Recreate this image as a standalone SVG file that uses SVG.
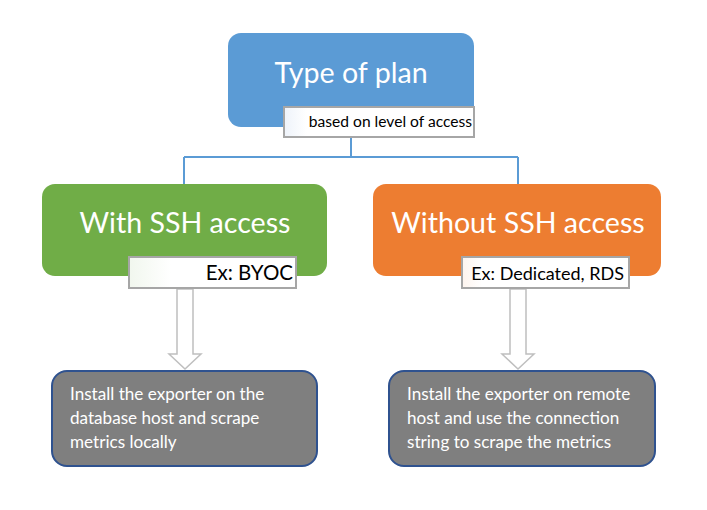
<svg xmlns="http://www.w3.org/2000/svg" width="707" height="510" viewBox="0 0 707 510">
<style>
.title{font-family:Lato,"Liberation Sans",sans-serif;font-size:28.6px;fill:#fff;text-anchor:middle}
.lbl{font-family:Lato,"Liberation Sans",sans-serif;fill:#000;text-anchor:end}
.lbox{stroke:#A6A6A6;stroke-width:2}
.body{font-family:Lato,"Liberation Sans",sans-serif;font-size:17.1px;fill:#fff}
.gbox{fill:#7F7F7F;stroke:#2F528F;stroke-width:2}
.conn{fill:none;stroke:#5B9BD5;stroke-width:2}
.arr{fill:#fff;stroke:#BFBFBF;stroke-width:1.5}
</style>
<defs>
<linearGradient id="gb" x1="0" x2="1" y1="0" y2="0"><stop offset="0" stop-color="#EEF3FA"/><stop offset="0.12" stop-color="#fff"/></linearGradient>
<linearGradient id="gg" x1="0" x2="1" y1="0" y2="0"><stop offset="0" stop-color="#F1F7EE"/><stop offset="0.25" stop-color="#fff"/></linearGradient>
<linearGradient id="go" x1="0" x2="1" y1="0" y2="0"><stop offset="0" stop-color="#FDF4EE"/><stop offset="0.12" stop-color="#fff"/></linearGradient>
</defs>
<rect width="707" height="510" fill="#fff"/>
<g id="connectors">
<path class="conn" d="M351 137V157M184 157H518M184 157V184M518 157V184"/>
<path class="arr" d="M177 289V354H169L185 369L201 354H193V289Z"/>
<path class="arr" d="M510 289V354H502L518 369L534 354H526V289Z"/>
</g>
<g id="plan">
<rect x="228" y="33" width="246" height="94" rx="13" fill="#5B9BD5"/>
<text class="title" x="351" y="83">Type of plan</text>
<rect class="lbox" x="284" y="107" width="190" height="30" fill="url(#gb)"/>
<text class="lbl" x="472" y="127" font-size="15.6">based on level of access</text>
</g>
<g id="ssh">
<rect x="42" y="184" width="285" height="92" rx="13" fill="#70AD47"/>
<text class="title" x="185" y="233">With SSH access</text>
<rect class="lbox" x="129" y="257" width="167" height="31" fill="url(#gg)"/>
<text class="lbl" x="293" y="280" font-size="20.5">Ex: BYOC</text>
</g>
<g id="nossh">
<rect x="373" y="184" width="288" height="92" rx="13" fill="#ED7D31"/>
<text class="title" x="518" y="233">Without SSH access</text>
<rect class="lbox" x="462" y="257" width="167" height="31" fill="url(#go)"/>
<text class="lbl" x="624" y="280" font-size="18">Ex: Dedicated, RDS</text>
</g>
<g id="local">
<rect class="gbox" x="52" y="371" width="265" height="95" rx="15"/>
<text class="body" x="70" y="400">Install the exporter on the</text>
<text class="body" x="70" y="424">database host and scrape</text>
<text class="body" x="70" y="448">metrics locally</text>
</g>
<g id="remote">
<rect class="gbox" x="389" y="371" width="266" height="95" rx="15"/>
<text class="body" x="407" y="400">Install the exporter on remote</text>
<text class="body" x="407" y="424">host and use the connection</text>
<text class="body" x="407" y="448">string to scrape the metrics</text>
</g>
</svg>
